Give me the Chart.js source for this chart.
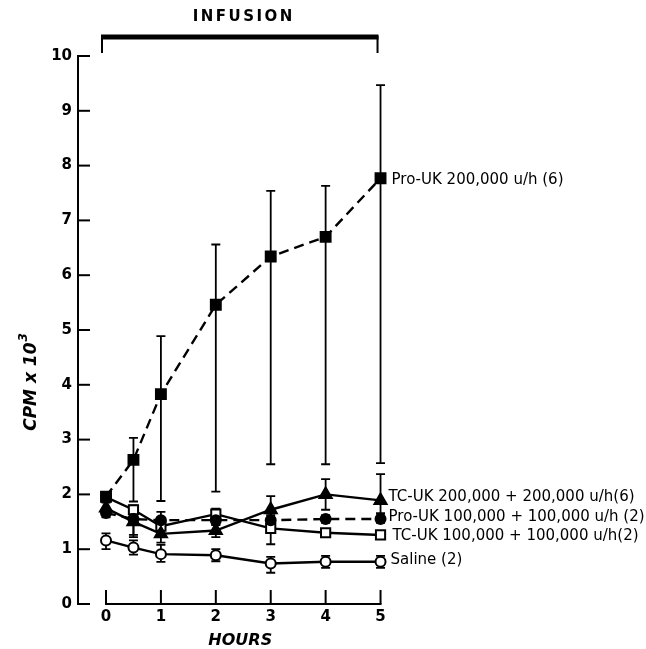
<!DOCTYPE html>
<html>
<head>
<meta charset="utf-8">
<script src="https://cdn.jsdelivr.net/npm/chart.js@4.4.0/dist/chart.umd.min.js"></script>
<style>
  html, body { margin: 0; padding: 0; background: #fff; }
  #wrap { width: 646px; height: 649px; position: relative; }
</style>
</head>
<body>
<div id="wrap"><canvas id="c"></canvas></div>
<script>
// ---- data ----
const hours = [0, 0.5, 1, 2, 3, 4, 5];
const hourTicks = [0, 1, 2, 3, 4, 5];
const cpmTicks = [0, 1, 2, 3, 4, 5, 6, 7, 8, 9, 10];

const seriesNames = [
  "Pro-UK 200,000 u/h (6)",
  "TC-UK 200,000 + 200,000 u/h(6)",
  "Pro-UK 100,000 + 100,000 u/h (2)",
  "TC-UK 100,000 + 100,000 u/h(2)",
  "Saline (2)"
];

const proUK200   = [1.96, 2.63, 3.83, 5.46, 6.34, 6.70, 7.77];
const proUK200Hi = [null, 3.03, 4.89, 6.56, 7.54, 7.63, 9.47];
const proUK200Lo = [null, 1.87, 1.88, 2.05, 2.55, 2.55, 2.57];

const tcUK200   = [1.75, 1.50, 1.28, 1.34, 1.72, 2.00, 1.89];
const tcUK200Hi = [1.85, 1.62, 1.42, 1.45, 1.97, 2.28, 2.37];
const tcUK200Lo = [1.62, 1.22, 1.12, 1.22, 1.47, 1.72, 1.66];

const proUK100   = [1.66, 1.55, 1.53, 1.53, 1.53, 1.55, 1.55];
const proUK100Hi = [1.72, 1.66, 1.68, 1.62, 1.62, 1.62, 1.62];
const proUK100Lo = [1.58, 1.26, 1.40, 1.44, 1.44, 1.48, 1.48];

const tcUK100   = [1.95, 1.72, 1.42, 1.64, 1.38, 1.30, 1.26];
const tcUK100Hi = [null, 1.80, 1.50, 1.74, 1.67, 1.35, null];
const tcUK100Lo = [null, 1.62, 1.35, 1.55, 1.09, 1.25, null];

const saline   = [1.16, 1.03, 0.91, 0.89, 0.74, 0.77, 0.77];
const salineHi = [1.29, 1.16, 1.08, 1.00, 0.86, 0.88, 0.88];
const salineLo = [1.00, 0.90, 0.77, 0.78, 0.57, 0.66, 0.66];

const infusionStart = 0, infusionEnd = 5;
const infusionLabel = "INFUSION";
const xTitle = "HOURS";
const yTitleMain = "CPM x 10";
const yTitleSup = "3";

// ---- build datasets ----
const pts = arr => hours.map((h, i) => ({ x: h, y: arr[i] }));
const base = { borderColor: '#000', borderWidth: 2.4, tension: 0, pointBorderColor: '#000', pointBorderWidth: 2 };

const datasets = [
  Object.assign({}, base, { label: seriesNames[0], data: pts(proUK200), hi: proUK200Hi, lo: proUK200Lo,
    borderDash: [10, 6], pointStyle: 'rect', pointRadius: 7, pointBackgroundColor: '#000', labelDy: 2, labelDx: 11 }),
  Object.assign({}, base, { label: seriesNames[1], data: pts(tcUK200), hi: tcUK200Hi, lo: tcUK200Lo,
    pointStyle: 'triangle', pointRadius: 7, pointBackgroundColor: '#000', labelDy: -3, labelDx: 8 }),
  Object.assign({}, base, { label: seriesNames[2], data: pts(proUK100), hi: proUK100Hi, lo: proUK100Lo,
    borderDash: [10, 6], pointStyle: 'circle', pointRadius: 5, pointBackgroundColor: '#000', labelDy: -2, labelDx: 8 }),
  Object.assign({}, base, { label: seriesNames[3], data: pts(tcUK100), hi: tcUK100Hi, lo: tcUK100Lo,
    pointStyle: 'rect', pointRadius: 6.5, pointBackgroundColor: '#fff', labelDy: 1, labelDx: 12 }),
  Object.assign({}, base, { label: seriesNames[4], data: pts(saline), hi: salineHi, lo: salineLo,
    pointStyle: 'circle', pointRadius: 5, pointBackgroundColor: '#fff', labelDy: -2, labelDx: 10 })
];

const FONT = '"DejaVu Sans", sans-serif';

const decor = {
  id: 'decor',
  beforeDatasetsDraw(chart) {
    const ctx = chart.ctx, xs = chart.scales.x, ys = chart.scales.y;
    ctx.save();
    ctx.strokeStyle = '#000';
    ctx.lineWidth = 1.8;
    chart.data.datasets.forEach(ds => {
      hours.forEach((h, i) => {
        const px = xs.getPixelForValue(h);
        const hi = ds.hi[i], lo = ds.lo[i];
        if (hi == null && lo == null) return;
        const y0 = ys.getPixelForValue(ds.data[i].y);
        const yh = hi != null ? ys.getPixelForValue(hi) : y0;
        const yl = lo != null ? ys.getPixelForValue(lo) : y0;
        ctx.beginPath();
        ctx.moveTo(px, yh); ctx.lineTo(px, yl);
        if (hi != null) { ctx.moveTo(px - 4.5, yh); ctx.lineTo(px + 4.5, yh); }
        if (lo != null) { ctx.moveTo(px - 4.5, yl); ctx.lineTo(px + 4.5, yl); }
        ctx.stroke();
      });
    });
    ctx.restore();
  },
  afterDraw(chart) {
    const ctx = chart.ctx, xs = chart.scales.x, ys = chart.scales.y, ca = chart.chartArea;
    ctx.save();
    ctx.strokeStyle = '#000'; ctx.fillStyle = '#000';
    // y axis inward ticks
    ctx.lineWidth = 2;
    cpmTicks.forEach(v => {
      const y = ys.getPixelForValue(v);
      ctx.beginPath(); ctx.moveTo(ca.left, y); ctx.lineTo(ca.left + 12, y); ctx.stroke();
    });
    // x axis line and upward ticks
    const y0 = ys.getPixelForValue(0);
    const xa = xs.getPixelForValue(hourTicks[0]), xb = xs.getPixelForValue(hourTicks[hourTicks.length - 1]);
    ctx.beginPath(); ctx.moveTo(xa - 1, y0); ctx.lineTo(xb + 1, y0); ctx.stroke();
    hourTicks.forEach(h => {
      const x = xs.getPixelForValue(h);
      ctx.beginPath(); ctx.moveTo(x, y0); ctx.lineTo(x, y0 - 14); ctx.stroke();
    });
    // infusion bar
    const ia = xs.getPixelForValue(infusionStart) - 5, ib = xs.getPixelForValue(infusionEnd) - 2;
    ctx.lineWidth = 5;
    ctx.beginPath(); ctx.moveTo(ia, 37); ctx.lineTo(ib, 37); ctx.stroke();
    ctx.lineWidth = 2;
    ctx.beginPath(); ctx.moveTo(ia + 1, 36); ctx.lineTo(ia + 1, 53); ctx.moveTo(ib - 1, 36); ctx.lineTo(ib - 1, 53); ctx.stroke();
    ctx.font = 'bold 15px ' + FONT;
    ctx.textAlign = 'center'; ctx.textBaseline = 'middle';
    try { ctx.letterSpacing = '2.5px'; } catch (e) {}
    ctx.fillText(infusionLabel, (ia + ib) / 2 + 4, 17);
    try { ctx.letterSpacing = '0px'; } catch (e) {}
    // x title
    ctx.font = 'italic bold 16px ' + FONT;
    ctx.fillText(xTitle, (xa + xb) / 2 - 3, 641);
    // y title with superscript
    ctx.save();
    ctx.translate(30, 382); ctx.rotate(-Math.PI / 2);
    ctx.font = 'italic bold 17px ' + FONT;
    const wMain = ctx.measureText(yTitleMain).width;
    ctx.font = 'italic bold 12px ' + FONT;
    const wSup = ctx.measureText(yTitleSup).width;
    const startX = -(wMain + wSup + 1) / 2;
    ctx.textAlign = 'left';
    ctx.font = 'italic bold 17px ' + FONT;
    ctx.fillText(yTitleMain, startX, 2);
    ctx.font = 'italic bold 12px ' + FONT;
    ctx.fillText(yTitleSup, startX + wMain + 1, -6);
    ctx.restore();
    // series labels
    ctx.font = '15px ' + FONT;
    ctx.textAlign = 'left';
    chart.data.datasets.forEach(ds => {
      const i = hours.length - 1;
      const x = xs.getPixelForValue(hours[i]) + ds.labelDx;
      const y = ys.getPixelForValue(ds.data[i].y) + ds.labelDy;
      ctx.fillText(ds.label, x, y);
    });
    ctx.restore();
  }
};

new Chart(document.getElementById('c'), {
  type: 'line',
  data: { datasets },
  options: {
    responsive: true, maintainAspectRatio: false, animation: false,
    layout: { padding: { top: 56, right: 249, bottom: 0, left: 0 } },
    plugins: { legend: { display: false }, tooltip: { enabled: false } },
    scales: {
      x: {
        type: 'linear', min: -0.51, max: 5.3,
        afterBuildTicks: s => { s.ticks = hourTicks.map(v => ({ value: v })); },
        afterFit: s => { s.height = 45; },
        grid: { display: false, drawTicks: false },
        border: { display: false },
        ticks: { color: '#000', font: { family: FONT, weight: 'bold', size: 15 }, padding: 4, maxRotation: 0 }
      },
      y: {
        min: 0, max: 10,
        afterBuildTicks: s => { s.ticks = cpmTicks.map(v => ({ value: v })); },
        afterFit: s => { s.width = 78; },
        grid: { display: true, drawOnChartArea: false, drawTicks: false },
        border: { display: true, color: '#000', width: 2 },
        ticks: { color: '#000', font: { family: FONT, weight: 'bold', size: 15 }, padding: 6 }
      }
    }
  },
  plugins: [decor]
});
</script>
</body>
</html>
